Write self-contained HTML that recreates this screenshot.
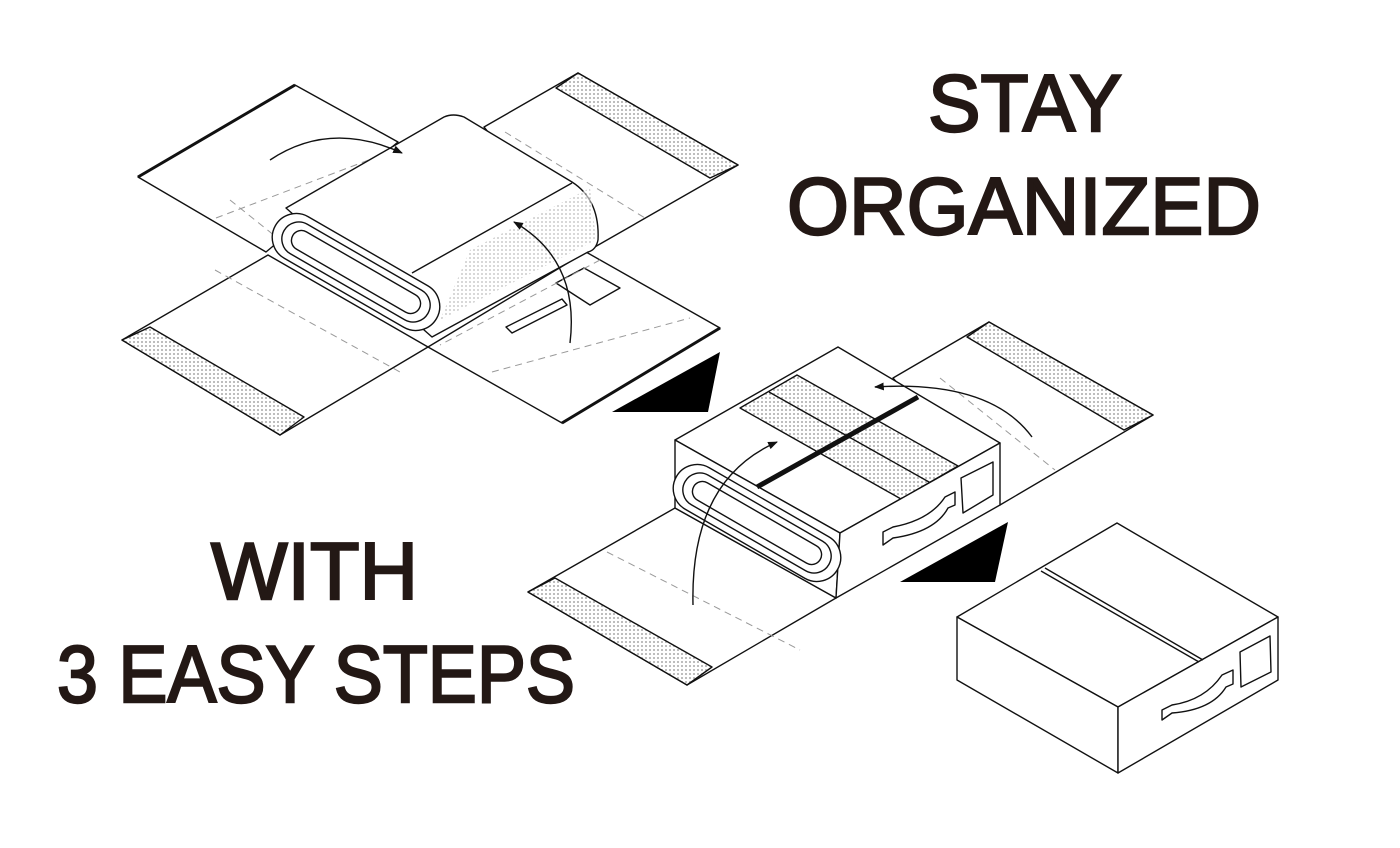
<!DOCTYPE html>
<html><head><meta charset="utf-8"><style>html,body{margin:0;padding:0;background:#fff}svg{display:block}</style></head>
<body>
<svg width="1400" height="848" viewBox="0 0 1400 848" xmlns="http://www.w3.org/2000/svg">
<defs>
<pattern id="dots" width="4" height="4" patternUnits="userSpaceOnUse"><rect width="4" height="4" fill="#fff"/><circle cx="2" cy="2" r="1" fill="#aaa"/></pattern>
<marker id="ah" viewBox="0 0 10 10" refX="9" refY="5" markerWidth="7" markerHeight="7" orient="auto"><path d="M0,1 L10,5 L0,9 z" fill="#111"/></marker>
</defs>
<g font-family="Liberation Sans, sans-serif" fill="#231815" stroke="#231815" stroke-width="2.4" font-size="81">
<text x="928" y="131" textLength="194" lengthAdjust="spacingAndGlyphs">STAY</text>
<text x="787" y="234" textLength="474" lengthAdjust="spacingAndGlyphs">ORGANIZED</text>
<text x="211" y="599" textLength="207" lengthAdjust="spacingAndGlyphs">WITH</text>
<text x="57" y="702" textLength="518" lengthAdjust="spacingAndGlyphs">3 EASY STEPS</text>
</g>
<g fill="#fff" stroke="#111" stroke-width="1.4" stroke-linejoin="round">
<!-- STEP 1 -->
<polygon points="138,177 295,85 398,142 266,252"/>
<path d="M138,177 L295,85" stroke-width="3"/>
<polygon points="484,127 578,73 738,165 586,252"/>
<polygon points="556,88 578,73 738,165 710,178" fill="url(#dots)"/>
<polygon points="122,340 268,255 428,347 280,435"/>
<polygon points="122,340 150,327 304,417 280,435" fill="url(#dots)"/>
<polygon points="428,347 586,252 720,328 562,423"/>
<path d="M562,423 L720,328" stroke-width="3"/>
<polygon points="556,283 584,268 620,288 590,305"/>
<polygon points="506,327 562,299 567,305 512,333"/>
<g fill="none" stroke="#999" stroke-dasharray="7,5" stroke-width="1">
<path d="M216,218 L395,150"/><path d="M505,132 L645,218"/><path d="M215,270 L400,372"/><path d="M492,372 L690,318"/><path d="M600,260 L440,345"/><path d="M230,200 L280,240"/>
</g>
<path d="M286,208 L444,117 Q453,113 464,117 L572,182 Q600,200 598,240 Q596,250 588,252 L432,337 Z"/>
<path d="M412,273 L572,183" fill="none"/>
<polygon points="470,250 590,188 596,240 440,320" fill="url(#dots)" stroke="none" opacity="0.6"/>
<g transform="translate(356,272) rotate(30)">
<rect x="-93" y="-24" width="186" height="48" rx="24"/>
<rect x="-83" y="-17" width="166" height="34" rx="17"/>
<rect x="-73" y="-10" width="146" height="20" rx="10"/>
</g>
<path d="M270,160 Q330,120 402,153" fill="none" marker-end="url(#ah)"/>
<path d="M570,343 Q580,260 514,222" fill="none" marker-end="url(#ah)"/>
<polygon points="612,412 720,352 708,412" fill="#000" stroke="none"/>
<!-- STEP 2 -->
<polygon points="528,592 675,508 836,598 687,685"/>
<polygon points="528,592 555,578 712,667 687,685" fill="url(#dots)"/>
<polygon points="893,378 989,322 1153,415 1000,505"/>
<polygon points="967,337 989,322 1153,415 1124,430" fill="url(#dots)"/>
<path d="M607,552 L800,650 M940,378 L1055,470" fill="none" stroke="#999" stroke-dasharray="7,5" stroke-width="1"/>
<polygon points="675,440 838,347 1000,443 840,533"/>
<polygon points="740,408 797,375 958,466 901,499" fill="url(#dots)"/>
<path d="M769,392 L929,482" fill="none"/>
<polygon points="675,440 840,533 836,598 675,508"/>
<polygon points="840,533 1000,443 1000,505 836,598"/>
<path d="M757,487 L918,397" stroke-width="5" fill="none"/>
<g transform="translate(757,523) rotate(30)">
<rect x="-93" y="-24" width="186" height="48" rx="24"/>
<rect x="-83" y="-17" width="166" height="34" rx="17"/>
<rect x="-73" y="-10" width="146" height="20" rx="10"/>
</g>
<polygon points="961,478 993,462 993,495 963,513"/>
<path d="M883,532 L893,527 Q930,520 945,497 L955,492 L955,505 L948,508 Q935,532 893,538 L883,545 Z"/>
<path d="M693,605 Q690,480 777,442" fill="none" marker-end="url(#ah)"/>
<path d="M1032,437 Q990,380 875,387" fill="none" marker-end="url(#ah)"/>
<polygon points="900,582 1008,522 995,582" fill="#000" stroke="none"/>
<!-- STEP 3 -->
<polygon points="957,617 1117,523 1278,617 1118,707"/>
<polygon points="957,617 1118,707 1118,773 957,680"/>
<polygon points="1118,707 1278,617 1278,680 1118,773"/>
<path d="M1045,568 L1203,660 M1041,571 L1199,662" fill="none"/>
<polygon points="1240,652 1270,636 1271,672 1241,687"/>
<path d="M1162,710 L1172,705 Q1205,700 1222,675 L1233,670 L1233,684 L1226,687 Q1212,710 1172,713 L1162,720 Z"/>
</g>
</svg>
</body></html>
